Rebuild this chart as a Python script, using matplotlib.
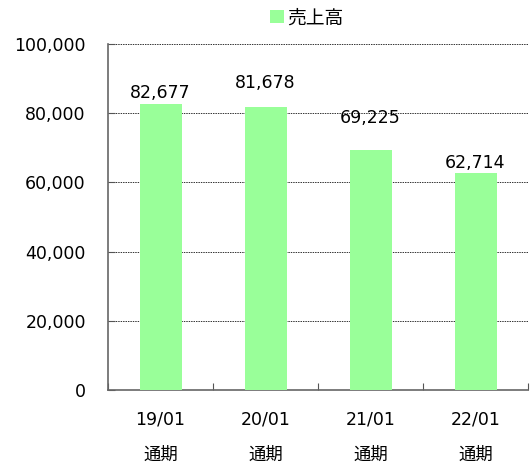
import matplotlib
matplotlib.use("Agg")
import matplotlib.pyplot as plt
from matplotlib.ticker import FuncFormatter, NullFormatter

plt.rcParams['font.family'] = ['DejaVu Sans', 'Noto Sans CJK JP']

periods = ["19/01", "20/01", "21/01", "22/01"]
period_suffix = ["通期", "通期", "通期", "通期"]
sales = [82677, 81678, 69225, 62714]
label_offsets = [1.5, 11, 17, 0.5]  # points above bar top
series_name = "売上高"

fig = plt.figure(figsize=(5.3, 4.65), dpi=100)
ax = fig.add_axes([108/530, 1-390/465, 420/530, 346/465])

x = list(range(len(periods)))
bars = ax.bar(x, sales, width=0.4, color="#99FF99", label=series_name, zorder=3)

ax.set_xlim(-0.5, len(periods) - 0.5)
ax.set_ylim(0, 100000)
ax.set_yticks(range(0, 100001, 20000))
ax.yaxis.set_major_formatter(FuncFormatter(lambda v, p: f"{int(v):,}"))
ax.yaxis.grid(True, color="#333333", linestyle=(0, (1.5, 1)), linewidth=0.7, zorder=0)
ax.tick_params(axis='y', direction='in', length=5, labelsize=12.5, pad=16, color="#555555")

ax.set_xticks([i - 0.5 for i in range(len(periods) + 1)])
ax.xaxis.set_major_formatter(NullFormatter())
ax.set_xticks(x, minor=True)
ax.set_xticklabels([f"{p}\n{s}" for p, s in zip(periods, period_suffix)], minor=True,
                   fontsize=12.5, linespacing=2.2)
ax.tick_params(axis='x', which='minor', length=0, pad=15)
ax.tick_params(axis='x', which='major', direction='in', length=5, color="#555555")

for s in ["top", "right"]:
    ax.spines[s].set_visible(False)
for s in ["left", "bottom"]:
    ax.spines[s].set_color("#666666")
    ax.spines[s].set_linewidth(1.2)

for b, v, off in zip(bars, sales, label_offsets):
    ax.annotate(f"{v:,}", (b.get_x() + b.get_width()/2, v), xytext=(0, off),
                textcoords="offset points", ha="center", va="bottom", fontsize=12.5)

fig.legend(handles=[bars], labels=[series_name], loc="center", bbox_to_anchor=(307/530, 1-18/465),
           frameon=False, fontsize=13.5, handlelength=0.7, handleheight=0.7, handletextpad=0.2)

fig.savefig("out.png", dpi=100)
